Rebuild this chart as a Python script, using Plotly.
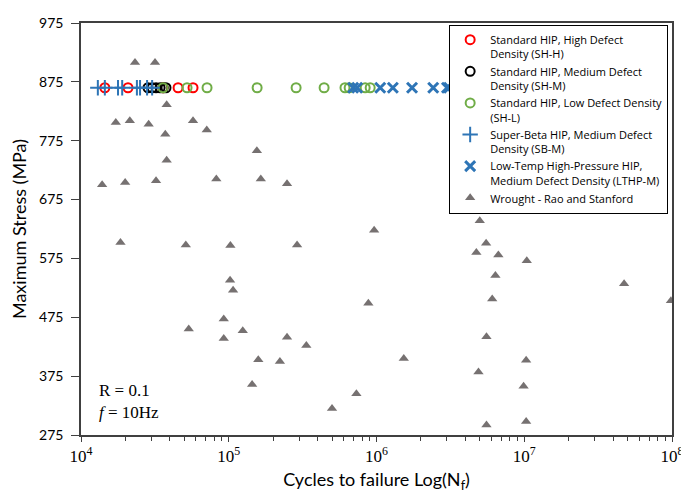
import plotly.graph_objects as go

# ---- Data ----
sh_h_cycles = [14500, 20800, 35900, 45400, 57300]
sh_h_stress = [865, 865, 865, 865, 865]

sh_m_cycles = [28400, 30300, 32200, 34300, 36000, 37600]
sh_m_stress = [865, 865, 865, 865, 865, 865]

sh_l_cycles = [35900, 52200, 71300, 155600, 285700, 441900, 612000, 653000, 838000, 906000]
sh_l_stress = [865, 865, 865, 865, 865, 865, 865, 865, 865, 865]

sb_m_cycles = [13000, 14500, 17800, 19000, 23900, 25100, 28000, 30300]
sb_m_stress = [865, 865, 865, 865, 865, 865, 865, 865]

lthp_m_cycles = [695000, 740000, 1060000, 1290000, 1740000, 2420000, 3000000, 3100000]
lthp_m_stress = [865, 865, 865, 865, 865, 865, 865, 865]

wrought_cycles = [23200, 31700, 38000, 17200, 21400, 28700, 57300, 71000, 37200, 155000,
                  38000, 13900, 19900, 32200, 82400, 164800, 248000, 18500, 51200, 102600,
                  290000, 102100, 107000, 881000, 92500, 53600, 124400, 92500, 248000, 335000,
                  158500, 222000, 143900, 731000, 500000, 4600000, 5000000, 964000, 5520000, 4740000,
                  6680000, 10400000, 6380000, 47400000, 6070000, 98400000, 5550000, 1530000, 10300000, 4900000,
                  9900000, 5550000, 10300000]
wrought_stress = [908, 908, 836, 806, 809, 803, 809, 793, 786, 758,
                  742, 700, 704, 707, 710, 710, 702, 602, 598, 597,
                  598, 538, 521, 499, 472, 455, 452, 439, 441, 427,
                  403, 400, 361, 345, 320, 665, 639, 623, 601, 585,
                  581, 571, 546, 532, 506, 503, 442, 405, 402, 382,
                  358, 292, 298]

x_tick_vals = [1e4, 1e5, 1e6, 1e7, 1e8]
x_tick_text = ["10<sup>4</sup>", "10<sup>5</sup>", "10<sup>6</sup>", "10<sup>7</sup>", "10<sup>8</sup>"]
y_tick_vals = [275, 375, 475, 575, 675, 775, 875, 975]

BLUE = "#2E75B6"

fig = go.Figure()

fig.add_trace(go.Scatter(
    x=sh_h_cycles, y=sh_h_stress, mode="markers",
    name="Standard HIP, High Defect<br>Density (SH-H)",
    marker=dict(symbol="circle-open", size=9, color="#FF0000", line=dict(width=2, color="#FF0000"))))
fig.add_trace(go.Scatter(
    x=sh_m_cycles, y=sh_m_stress, mode="markers",
    name="Standard HIP, Medium Defect<br>Density (SH-M)",
    marker=dict(symbol="circle-open", size=9, color="#000000", line=dict(width=2, color="#000000"))))
fig.add_trace(go.Scatter(
    x=sh_l_cycles, y=sh_l_stress, mode="markers",
    name="Standard HIP, Low Defect Density<br>(SH-L)",
    marker=dict(symbol="circle-open", size=9, color="#70AD47", line=dict(width=2, color="#70AD47"))))
fig.add_trace(go.Scatter(
    x=sb_m_cycles, y=sb_m_stress, mode="markers",
    name="Super-Beta HIP, Medium Defect<br>Density (SB-M)",
    marker=dict(symbol="cross-thin-open", size=11, color=BLUE, line=dict(width=2, color=BLUE))))
fig.add_trace(go.Scatter(
    x=lthp_m_cycles, y=lthp_m_stress, mode="markers",
    name="Low-Temp High-Pressure HIP,<br>Medium Defect Density (LTHP-M)",
    marker=dict(symbol="x-thin-open", size=10, color=BLUE, line=dict(width=3, color=BLUE))))
fig.add_trace(go.Scatter(
    x=wrought_cycles, y=wrought_stress, mode="markers",
    name="Wrought - Rao and Stanford",
    marker=dict(symbol="triangle-up", size=9, color="#767171")))

AX = "#404040"
fig.update_layout(
    width=681, height=495,
    margin=dict(l=81, r=9, t=23, b=60, autoexpand=False),
    paper_bgcolor="white", plot_bgcolor="white",
    font=dict(family="Lato", size=14, color="#000000"),
    showlegend=True,
    legend=dict(
        x=0.9935, y=0.995, xanchor="right", yanchor="top",
        bgcolor="white", bordercolor="#000000", borderwidth=1,
        font=dict(family="Open Sans", size=11, color="#000000"),
        valign="top", tracegroupgap=0, itemwidth=30,
    ),
    xaxis=dict(
        type="log", range=[3.99999, 8.00001], automargin=False,
        tickvals=x_tick_vals, ticktext=x_tick_text, ticklabeloverflow="allow",
        tickfont=dict(family="Liberation Serif", size=17, color="#000000"),
        ticks="outside", ticklen=5, tickcolor=AX, tickwidth=1,
        minor=dict(ticks="outside", ticklen=4, tickcolor=AX, tickwidth=1, dtick="D1"),
        showline=True, linecolor=AX, linewidth=1.5, mirror=True,
        showgrid=False, zeroline=False,
        title=dict(text="Cycles to failure Log(N<sub>f</sub>)", font=dict(family="Lato", size=18, color="#000000"), standoff=8),
    ),
    yaxis=dict(
        range=[275, 975], tickvals=y_tick_vals, automargin=False,
        tickfont=dict(family="Lato", size=14, color="#000000"),
        ticks="outside", ticklen=8, tickcolor=AX, tickwidth=1, ticklabelstandoff=5,
        showline=True, linecolor=AX, linewidth=1.5, mirror=True,
        showgrid=False, zeroline=False,
        title=dict(text="Maximum Stress (MPa)", font=dict(family="Lato", size=18, color="#000000"), standoff=8),
    ),
    annotations=[dict(
        xref="paper", yref="paper", x=0.027, y=0.081, xanchor="left", yanchor="middle",
        text="R = 0.1<br><i>f</i> = 10Hz", showarrow=False, align="left",
        font=dict(family="Liberation Serif", size=17, color="#000000"),
    )],
)

fig.write_html("out.html", config={"displayModeBar": False},
               post_script="document.body.style.margin='0';document.body.style.overflow='hidden';")
